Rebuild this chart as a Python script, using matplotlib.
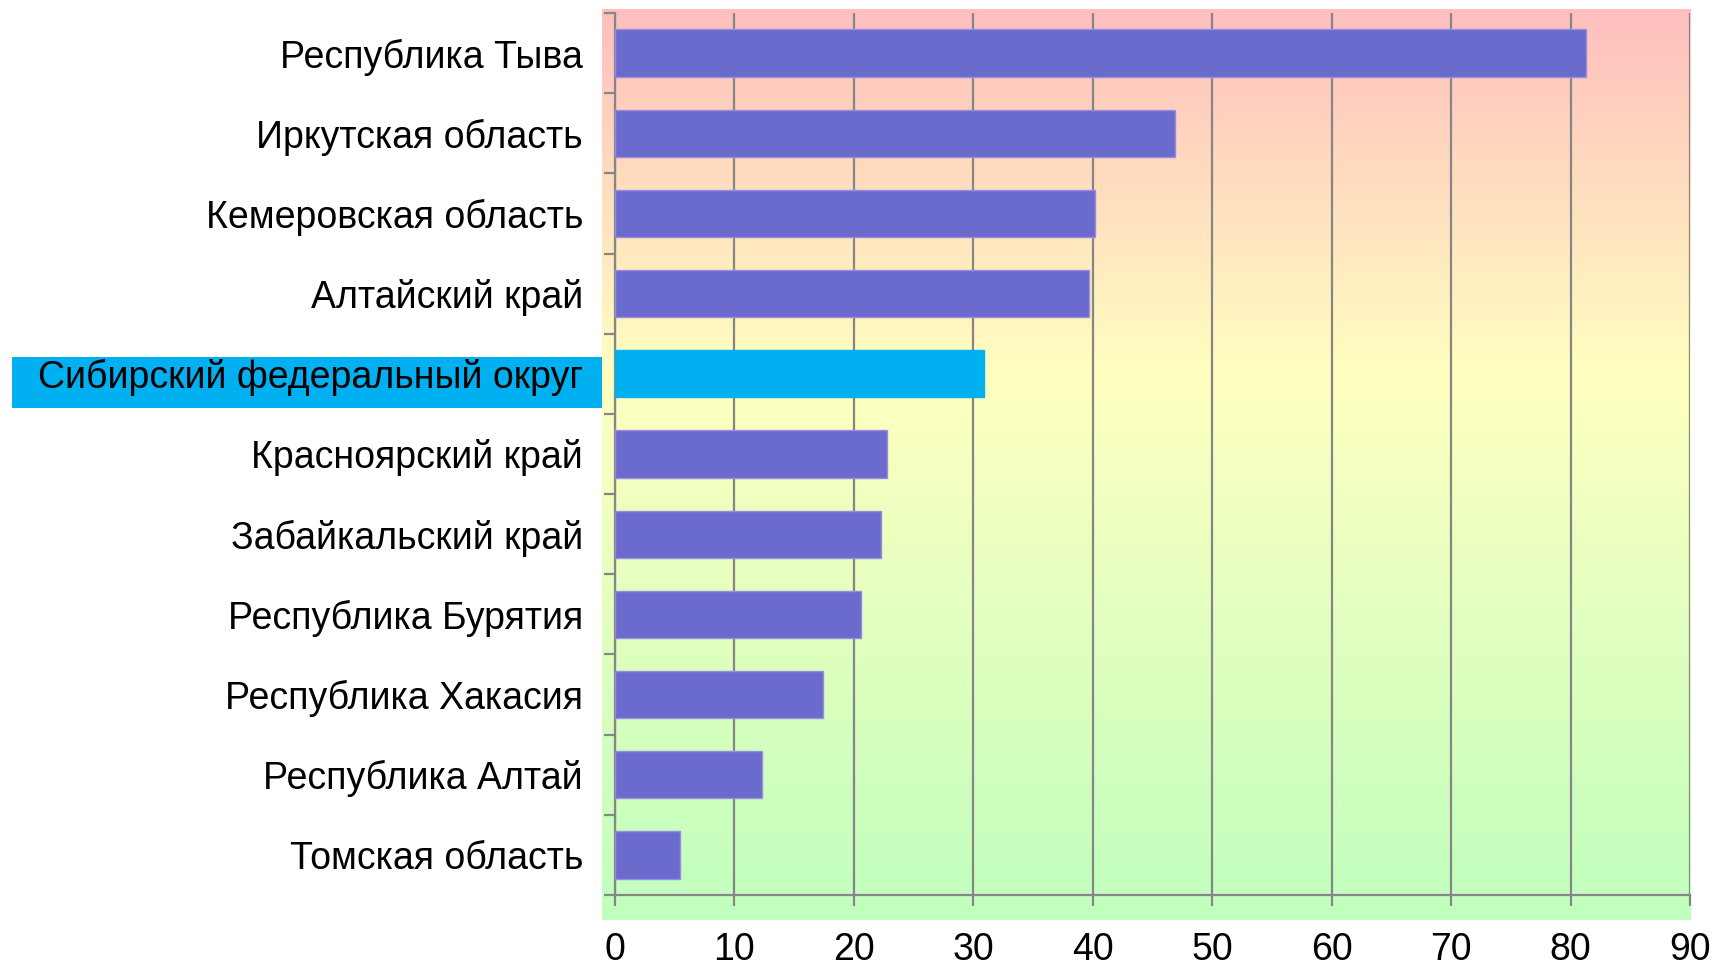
import numpy as np
import matplotlib
matplotlib.use("Agg")
import matplotlib.pyplot as plt
from matplotlib.patches import Rectangle
import matplotlib.transforms as mtransforms

plt.rcParams['font.family'] = ['Liberation Sans', 'DejaVu Sans']

regions = ["Республика Тыва", "Иркутская область", "Кемеровская область",
           "Алтайский край", "Сибирский федеральный округ", "Красноярский край",
           "Забайкальский край", "Республика Бурятия", "Республика Хакасия",
           "Республика Алтай", "Томская область"]
values = [81.3, 46.9, 40.2, 39.7, 30.9, 22.8, 22.3, 20.6, 17.4, 12.3, 5.4]
highlight = "Сибирский федеральный округ"
xticks = [0, 10, 20, 30, 40, 50, 60, 70, 80, 90]

W, H = 1712, 966
fig = plt.figure(figsize=(W / 100, H / 100), dpi=100)

# gradient background
bg = fig.add_axes([602 / W, 1 - 920 / H, (1691 - 602) / W, (920 - 9) / H], zorder=0)
stops_pos = [0.0, 0.40, 1.0]
stops_col = np.array([[255, 190, 190], [255, 255, 192], [192, 255, 190]]) / 255.0
t = np.linspace(0, 1, 400)
grad = np.stack([np.interp(t, stops_pos, stops_col[:, c]) for c in range(3)], axis=1)
bg.imshow(grad[:, None, :], aspect='auto', extent=[0, 1, 0, 1])
bg.set_axis_off()

ax = fig.add_axes([615 / W, 1 - 895 / H, (1690 - 615) / W, (895 - 13) / H], zorder=1)
ax.patch.set_alpha(0)

n = len(regions)
ypos = np.arange(n)[::-1]
colors = ['#00B0F0' if r == highlight else '#6B6BCD' for r in regions]
edges = ['#00B0F0' if r == highlight else '#9A8AE0' for r in regions]
ax.barh(ypos, values, height=0.59, color=colors, edgecolor=edges, linewidth=1, zorder=3)

ax.set_xlim(0, 90)
ax.set_ylim(-0.5, n - 0.5)
ax.set_xticks(xticks)
ax.set_xticklabels([str(v) for v in xticks], fontsize=27)
ax.grid(axis='x', color='#868686', linewidth=1.6, zorder=1)
ax.set_axisbelow(True)

ax.set_yticks(ypos)
ax.set_yticklabels(regions, fontsize=27)
ax.tick_params(axis='y', which='major', length=0, pad=23)
ax.set_yticks(np.arange(-0.5, n, 1.0), minor=True)
ax.tick_params(axis='y', which='minor', length=8, width=1.6, color='#868686', direction='out')
ax.tick_params(axis='x', length=8, width=1.6, color='#868686', pad=19)

for s in ['top', 'right']:
    ax.spines[s].set_visible(False)
for s in ['left', 'bottom']:
    ax.spines[s].set_color('#868686')
    ax.spines[s].set_linewidth(1.6)

# highlight box behind the highlighted label
idx = regions.index(highlight)
trans = mtransforms.blended_transform_factory(fig.transFigure, ax.transData)
yc = ypos[idx]
rect = Rectangle((12 / W, yc - 0.43), (602 - 12) / W, 0.635, transform=trans,
                 facecolor='#00B0F0', edgecolor='none', zorder=0.5, clip_on=False)
fig.patches.append(rect)

fig.savefig('out.png', dpi=100)
